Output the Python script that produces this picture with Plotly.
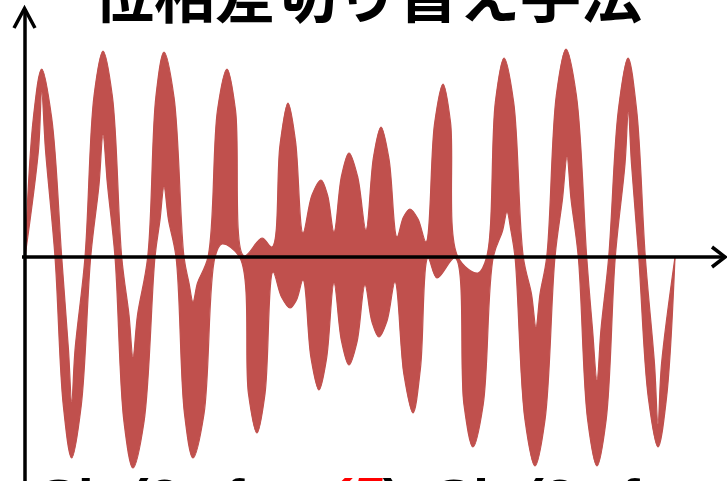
import plotly.graph_objects as go

# Switched-phase waveform, drawn as the band between its upper and lower edges.
# time in µs, amplitude in mV
upper_t = [0, 8.35, 16.7, 26.7, 36.7, 43.5, 46.7, 50, 60, 69, 78, 87.35, 96.7, 104, 108, 112.5,
           122.7, 130.85, 139, 149, 159, 164, 168, 172.5, 183, 192.5, 202, 210.5, 219, 237, 247,
           255, 263, 270.5, 278, 287, 296, 302.5, 309, 316.5, 324, 332.5, 341, 348.5, 356, 364,
           372, 378.5, 385, 393, 401, 409.5, 418, 425.5, 433, 453, 461.7, 470.35, 479, 488.65,
           498.3, 506.5, 511, 515, 521.7, 531.35, 541, 551.35, 561.7, 567.5, 572, 576, 583.7,
           593.35, 603, 611.65, 620.3, 629.5, 633, 636.5, 650]
upper_v = [0, 139, 188, 139, 0, -93, -145, -93, 0, 161, 206, 161, 0, -58, -100, -58,
           0, 160, 205, 160, 0, -26, -45, -26, 0, 147, 188, 147, 1, 19, 10,
           112, 154, 116, 24, 62, 77, 62, 25, 81, 104, 81, 27, 100, 130, 98,
           20, 40, 48, 38, 15, 133, 173, 135, 0, -16, 0, 155, 199, 155,
           0, -37, -70, -37, 0, 162, 208, 162, 0, -72, -123, -72, 0,
           147, 199, 147, 0, -107, -167, -107, 0]

lower_t = [0, 13.5, 16.7, 20.5, 30, 38.35, 46.7, 56.2, 65.7, 74, 78, 82.5, 90, 99, 108, 119,
           130, 135, 139, 143.5, 151, 159.5, 168, 179, 190, 197, 215, 223.5, 232, 240, 248,
           256.5, 265, 271.5, 278, 286, 294, 301.5, 309, 316.5, 324, 332, 340, 347, 354, 362,
           370, 379, 388, 395.5, 403, 412, 430, 439, 448, 458.15, 468.3, 477.5, 482, 486,
           490, 500, 510, 520, 530, 537.5, 542, 546, 553.3, 562.65, 572, 581.15, 590.3,
           600, 603.3, 606.5, 613.7, 623.35, 633, 641.5, 650]
lower_v = [0, 107, 165, 107, 0, -149, -201, -149, 0, 72, 122, 72, 0, -165, -211, -165,
           0, 37, 70, 37, 0, -157, -201, -157, 0, 13, -1, -137, -176, -137, -15,
           -40, -51, -43, -23, -101, -133, -102, -26, -84, -108, -85, -28, -65, -80, -64,
           -25, -118, -156, -111, -1, -21, -1, -148, -190, -148, 0, 26, 45, 26,
           0, -163, -209, -163, 0, 58, 100, 58, 0, -163, -209, -163, 0,
           93, 145, 93, 0, -141, -190, -141, 0]

title_text = "位相差切り替え手法"
formula_html = ("Sin(2πf<sub>1t)</sub>+"
                "<span style='color:#FF0000'><i>(δ</i></span>)&nbsp; Sin(2πf<sub>2t)</sub>")

WAVE = "#C0504D"

fig = go.Figure()
fig.add_trace(go.Scatter(x=upper_t, y=upper_v, mode="lines",
                         line=dict(color=WAVE, width=1.2, shape="spline", smoothing=1.0),
                         hoverinfo="skip", showlegend=False))
fig.add_trace(go.Scatter(x=lower_t, y=lower_v, mode="lines", fill="tonexty",
                         fillcolor=WAVE,
                         line=dict(color=WAVE, width=1.2, shape="spline", smoothing=1.0),
                         hoverinfo="skip", showlegend=False))

# hand-drawn style axes with open arrowheads
axis_line = dict(color="black", width=3.5)
shapes = [
    dict(type="line", x0=0, x1=0, y0=-240, y1=248, line=axis_line),
    dict(type="line", x0=-3, x1=700, y0=0, y1=0, line=axis_line),
    dict(type="path", path="M 687,10 L 700,0 L 687,-10", line=axis_line),
    dict(type="path", path="M -11,229 L -0.5,248.5 L 10,229", line=axis_line),
]

fig.update_layout(
    width=727, height=481,
    margin=dict(l=0, r=0, t=0, b=0),
    paper_bgcolor="white", plot_bgcolor="white",
    xaxis=dict(range=[-25, 702], visible=False, fixedrange=True),
    yaxis=dict(range=[-224, 257], visible=False, fixedrange=True),
    shapes=shapes,
    annotations=[
        dict(text=f"<b>{title_text}</b>", xref="paper", yref="paper",
             x=367 / 727, y=1 - 38 / 481, xanchor="center", yanchor="bottom",
             showarrow=False,
             font=dict(family="Noto Sans CJK JP", size=61, color="black")),
        dict(text=f"<b>{formula_html}</b>", xref="paper", yref="paper",
             x=37 / 727, y=1 - 465 / 481, xanchor="left", yanchor="top",
             showarrow=False,
             font=dict(family="Liberation Sans", size=58, color="black")),
    ],
)

fig.write_html("out.html")
